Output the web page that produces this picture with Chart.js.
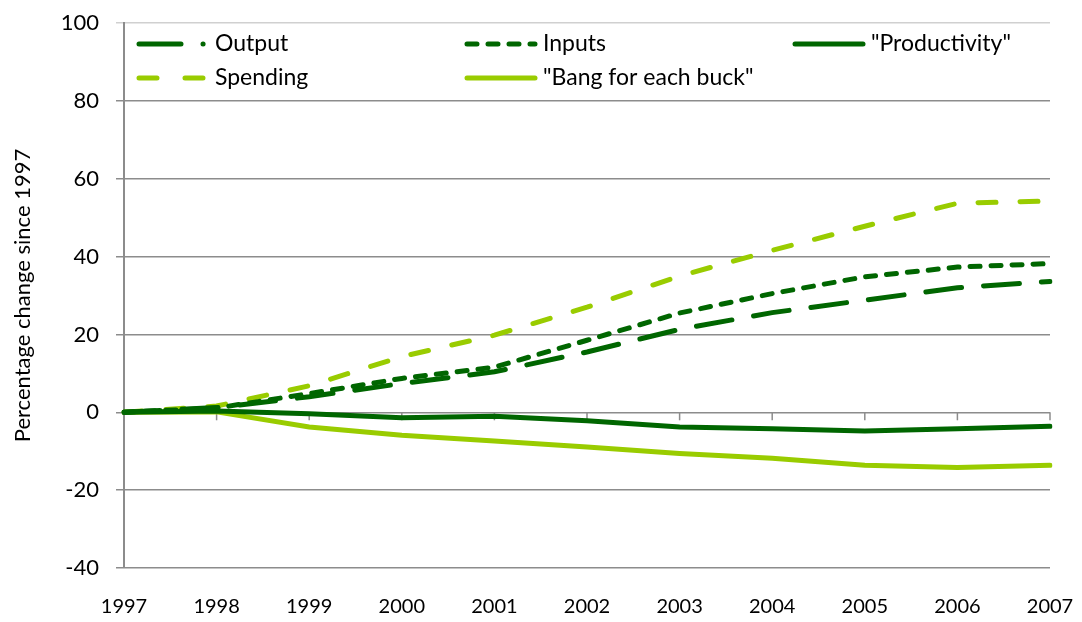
<!DOCTYPE html>
<html>
<head>
<meta charset="utf-8">
<script src="https://cdn.jsdelivr.net/npm/chart.js@4/dist/chart.umd.min.js"></script>
<style>
  html, body { margin: 0; padding: 0; background: #fff; }
  #wrap { width: 1082px; height: 622px; }
</style>
</head>
<body>
<div id="wrap"><canvas id="lineChart" width="1082" height="622"></canvas></div>
<script>
// data
const years = ['1997', '1998', '1999', '2000', '2001', '2002', '2003', '2004', '2005', '2006', '2007'];
const output = [0, 1.2, 4.0, 7.4, 10.4, 15.5, 21.3, 25.6, 28.8, 32.0, 33.6];
const inputs = [0, 1.1, 4.8, 8.7, 11.6, 18.5, 25.5, 30.5, 34.8, 37.3, 38.2];
const productivity = [0, 0.3, -0.4, -1.4, -1.0, -2.2, -3.8, -4.2, -4.8, -4.2, -3.6];
const spending = [0, 1.6, 6.8, 14.3, 19.8, 27.0, 35.0, 41.6, 47.8, 53.7, 54.3];
const bang = [0, 0.1, -3.8, -5.9, -7.4, -8.9, -10.6, -11.8, -13.6, -14.2, -13.6];
const yTicks = [-40, -20, 0, 20, 40, 60, 80, 100];

const dark = '#006600';
const light = '#99cc00';
const font = 'Lato, "Open Sans", sans-serif';

// legend drawn in a 3 column grid inside the plot, like the original
const gridLegend = {
    id: 'gridLegend',
    afterDraw(chart) {
        const ctx = chart.ctx;
        const area = chart.chartArea;
        ctx.save();
        chart.data.datasets.forEach((ds, i) => {
            const col = i % 3, row = Math.floor(i / 3);
            const x = area.left + 13 + col * 328;
            const y = area.top + 21 + row * 34;
            ctx.strokeStyle = ds.borderColor;
            ctx.lineWidth = ds.borderWidth;
            ctx.lineCap = 'round';
            ctx.setLineDash(ds.legendDash);
            ctx.beginPath();
            ctx.moveTo(x + 2, y);
            ctx.lineTo(x + 70, y);
            ctx.stroke();
            ctx.setLineDash([]);
            ctx.fillStyle = '#000';
            ctx.font = '23px ' + font;
            ctx.textBaseline = 'middle';
            ctx.fillText(ds.label, x + 78, y);
        });
        ctx.restore();
    }
};

// small ticks hanging under the zero line at each year
const zeroTicks = {
    id: 'zeroTicks',
    beforeDatasetsDraw(chart) {
        const ctx = chart.ctx;
        const xs = chart.scales.x, ys = chart.scales.y;
        const y0 = ys.getPixelForValue(0);
        ctx.save();
        ctx.strokeStyle = '#8c8c8c';
        ctx.lineWidth = 1.5;
        years.forEach((yr, i) => {
            const x = xs.getPixelForValue(i);
            ctx.beginPath();
            ctx.moveTo(x, y0);
            ctx.lineTo(x, y0 + 8);
            ctx.stroke();
        });
        ctx.restore();
    }
};

function line(label, data, color, dash, legendDash) {
    return {
        label: label,
        data: data,
        borderColor: color,
        backgroundColor: color,
        borderWidth: 5,
        borderDash: dash,
        legendDash: legendDash,
        borderCapStyle: 'round',
        pointRadius: 0,
        tension: 0,
        fill: false
    };
}

new Chart(document.getElementById('lineChart').getContext('2d'), {
    type: 'line',
    data: {
        labels: years,
        datasets: [
            line('Output', output, dark, [36, 22], [42, 22, 0.1, 22]),
            line('Inputs', inputs, dark, [10, 11], [10, 11]),
            line('"Productivity"', productivity, dark, [], []),
            line('Spending', spending, light, [18, 24], [18, 28]),
            line('"Bang for each buck"', bang, light, [], [])
        ]
    },
    options: {
        responsive: false,
        animation: false,
        layout: { padding: { top: 23, right: 32, bottom: 0, left: 0 } },
        plugins: {
            legend: { display: false },
            tooltip: { enabled: false }
        },
        scales: {
            x: {
                type: 'category',
                offset: false,
                grid: { display: false, drawTicks: false },
                border: { display: false },
                ticks: {
                    color: '#000',
                    font: { family: font, size: 20 },
                    maxRotation: 0,
                    autoSkip: false,
                    padding: 27
                },
                afterFit(scale) {
                    scale.height = 54;
                    scale.paddingLeft = 0;
                    scale.paddingRight = 0;
                }
            },
            y: {
                min: -40,
                max: 100,
                afterBuildTicks(scale) { scale.ticks = yTicks.map(v => ({ value: v })); },
                grid: {
                    color: ctx => ctx.tick && ctx.tick.value === 100 ? '#d0d0d0' : '#8c8c8c',
                    lineWidth: 1.5,
                    tickLength: 8
                },
                border: { display: true, color: '#8c8c8c', width: 2 },
                ticks: {
                    color: '#000',
                    font: { family: font, size: 22 },
                    padding: 17
                },
                title: {
                    display: true,
                    text: 'Percentage change since 1997',
                    color: '#000',
                    font: { family: font, size: 22 },
                    padding: { top: 10, bottom: 0 }
                },
                afterFit(scale) {
                    scale.width = 124;
                    scale.paddingTop = 0;
                    scale.paddingBottom = 0;
                }
            }
        }
    },
    plugins: [zeroTicks, gridLegend]
});
</script>
</body>
</html>
